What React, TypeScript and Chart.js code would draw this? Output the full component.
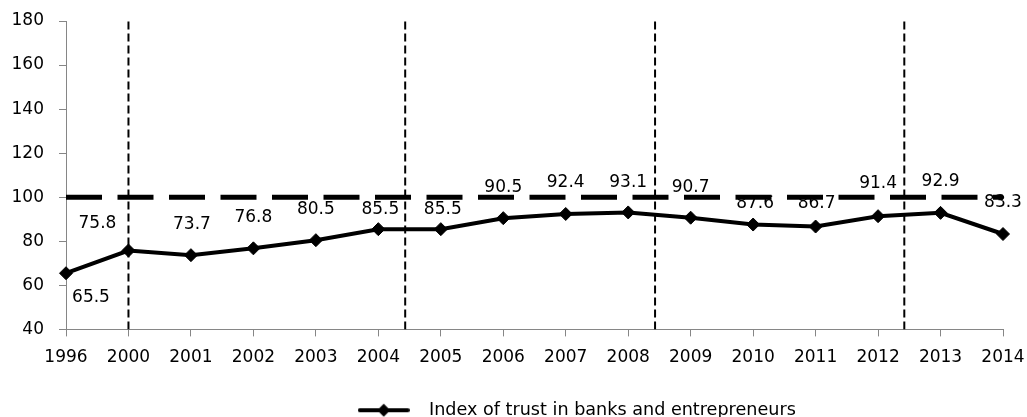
import React, { useEffect, useRef } from "react";
import { Chart, registerables } from "chart.js";

Chart.register(...registerables);

// Survey years on the category axis
const years = [
  "1996", "2000", "2001", "2002", "2003", "2004", "2005", "2006",
  "2007", "2008", "2009", "2010", "2011", "2012", "2013", "2014",
];

// Index of trust in banks and entrepreneurs, one value per year
const trustIndex = [
  65.5, 75.8, 73.7, 76.8, 80.5, 85.5, 85.5, 90.5,
  92.4, 93.1, 90.7, 87.6, 86.7, 91.4, 92.9, 83.3,
];

const seriesName = "Index of trust in banks and entrepreneurs";

// Neutral level of the index
const neutralLevel = [100];

// Period boundaries, in category-index units along the year axis
const periodBreaks = [1, 5.43, 9.43, 13.42];

// Value axis range
const yRange = { min: 40, max: 180, step: 20 };

// Pixel nudges for the value labels (dx, dy from each point)
const labelNudges: [number, number][] = [
  [25, 24], [-31, -27], [1, -31], [0, -31], [0, -31], [2, -20], [2, -20], [0, -31],
  [0, -31], [0, -30], [0, -30], [2, -21], [1, -23], [0, -33], [0, -31], [0, -31],
];

const FONT = "'DejaVu Sans', sans-serif";
const FONT_SIZE = 17;
const LEGEND_FONT_SIZE = 17.6;
const AXIS_GREY = "#868686";

function makeLegendIcon(): HTMLCanvasElement {
  const c = document.createElement("canvas");
  c.width = 52;
  c.height = 16;
  const g = c.getContext("2d")!;
  g.strokeStyle = "#000";
  g.lineWidth = 4;
  g.lineCap = "round";
  g.beginPath();
  g.moveTo(2, 8);
  g.lineTo(50, 8);
  g.stroke();
  g.fillStyle = "#000";
  g.beginPath();
  g.moveTo(26, 1.5);
  g.lineTo(32.5, 8);
  g.lineTo(26, 14.5);
  g.lineTo(19.5, 8);
  g.closePath();
  g.fill();
  return c;
}

const valueLabels = {
  id: "valueLabels",
  beforeDatasetsDraw(chart: any) {
    const meta = chart.getDatasetMeta(0);
    const ctx = chart.ctx;
    ctx.save();
    ctx.font = `${FONT_SIZE}px ${FONT}`;
    ctx.fillStyle = "#000";
    ctx.textAlign = "center";
    ctx.textBaseline = "middle";
    meta.data.forEach((pt: any, i: number) => {
      const [dx, dy] = labelNudges[i] || [0, -30];
      ctx.fillText(trustIndex[i].toFixed(1), pt.x + dx, pt.y + dy);
    });
    ctx.restore();
  },
};

// Moves the legend box right and down, to sit at the foot of the canvas
const legendShift = {
  id: "legendShift",
  afterLayout(chart: any) {
    const lg = chart.legend;
    if (!lg) return;
    const dx = 70;
    const dy = 22;
    lg.left += dx;
    lg.right += dx;
    lg.top += dy;
    lg.bottom += dy;
  },
};

export default function App() {
  const canvasRef = useRef<HTMLCanvasElement | null>(null);

  useEffect(() => {
    if (!canvasRef.current) return;
    const icon = makeLegendIcon();
    const last = years.length - 1;

    const breakSets = periodBreaks.map((b) => ({
      type: "line" as const,
      xAxisID: "x2",
      data: [
        { x: b, y: yRange.min },
        { x: b, y: yRange.max },
      ],
      borderColor: "#000",
      borderWidth: 2,
      borderDash: [8, 4],
      pointRadius: 0,
      fill: false,
    }));

    const chart = new Chart(canvasRef.current, {
      type: "line",
      data: {
        labels: years,
        datasets: [
          {
            label: seriesName,
            data: trustIndex,
            borderColor: "#000",
            backgroundColor: "#000",
            borderWidth: 4,
            pointStyle: "rectRot",
            pointRadius: 6.5,
            pointBorderWidth: 1,
            pointBackgroundColor: "#000",
            pointBorderColor: "#000",
            tension: 0,
            fill: false,
          },
          {
            type: "line",
            xAxisID: "x2",
            label: "neutral",
            data: [
              { x: 0, y: neutralLevel[0] },
              { x: last, y: neutralLevel[0] },
            ],
            borderColor: "#000",
            borderWidth: 5,
            borderDash: [36, 15.5],
            borderCapStyle: "butt",
            pointRadius: 0,
            fill: false,
          } as any,
          ...breakSets,
        ] as any,
      },
      options: {
        animation: false,
        responsive: false,
        maintainAspectRatio: false,
        layout: { autoPadding: false, padding: { top: 21, right: 24, bottom: 10, left: 0 } },
        scales: {
          x: {
            type: "category",
            offset: false,
            grid: {
              display: true,
              drawOnChartArea: false,
              drawTicks: true,
              tickLength: 7,
              color: AXIS_GREY,
            },
            border: { display: true, color: AXIS_GREY, width: 1 },
            ticks: {
              color: "#000",
              font: { family: FONT, size: FONT_SIZE },
              padding: 11,
              maxRotation: 0,
              autoSkip: false,
            },
            afterFit(scale: any) {
              scale.height = 40;
              scale.paddingLeft = 0;
              scale.paddingRight = 0;
            },
          },
          x2: {
            type: "linear",
            display: false,
            min: 0,
            max: last,
          },
          y: {
            min: yRange.min,
            max: yRange.max,
            grid: {
              display: true,
              drawOnChartArea: false,
              drawTicks: true,
              tickLength: 7,
              color: AXIS_GREY,
            },
            border: { display: true, color: AXIS_GREY, width: 1 },
            ticks: {
              stepSize: yRange.step,
              color: "#000",
              font: { family: FONT, size: FONT_SIZE },
              padding: 15,
            },
            afterFit(scale: any) {
              scale.width = 66;
              scale.paddingTop = 0;
              scale.paddingBottom = 0;
            },
          },
        },
        plugins: {
          tooltip: { enabled: false },
          title: { display: false },
          legend: {
            display: true,
            position: "bottom",
            align: "center",
            labels: {
              usePointStyle: true,
              pointStyleWidth: 73,
              color: "#000",
              font: { family: FONT, size: LEGEND_FONT_SIZE },
              padding: 10,
              generateLabels: () => [
                {
                  text: seriesName,
                  pointStyle: icon as any,
                  fillStyle: "#000",
                  strokeStyle: "#000",
                  lineWidth: 0,
                  hidden: false,
                  datasetIndex: 0,
                  fontColor: "#000",
                } as any,
              ],
            },
          },
        },
      } as any,
      plugins: [valueLabels, legendShift],
    });

    return () => chart.destroy();
  }, []);

  return (
    <div style={{ position: "fixed", left: 0, top: 0, width: 1027, height: 417, background: "#fff" }}>
      <canvas ref={canvasRef} width={1027} height={417} />
    </div>
  );
}
